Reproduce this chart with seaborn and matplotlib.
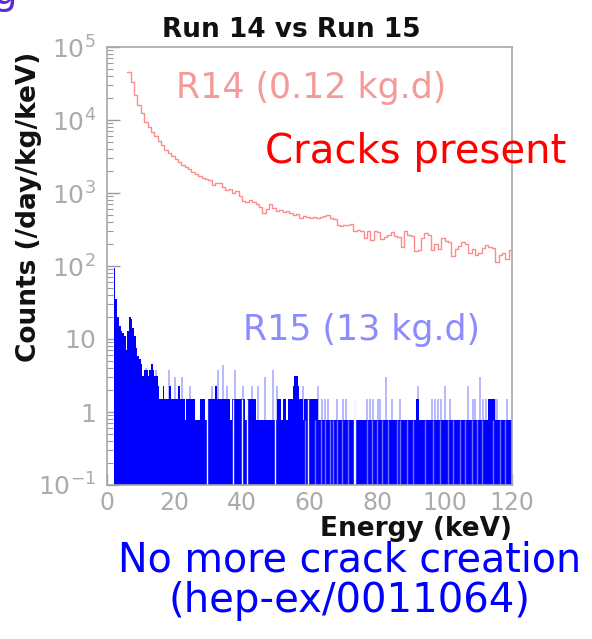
import numpy as np
import pandas as pd
import matplotlib
matplotlib.use("Agg")
import matplotlib.pyplot as plt
import seaborn as sns
from matplotlib.ticker import LogLocator, NullFormatter

# ---------------- data ----------------
# Run 14: rate per 1 keV bin, starting at 6 keV
r14_start = 6.0
r14_width = 1.0
r14_rate = [
    46000, 33000, 22000, 16000, 12500, 9500, 8000, 6800, 6000, 5200,   # 6-15
    4500, 3900, 3500, 3200, 2900, 2650, 2450, 2300, 2150, 1950,        # 16-25
    1800, 1700, 1600, 1550, 1500, 1300, 1380, 1350, 1200, 1100,        # 26-35
    1150, 1000, 1050, 900, 780, 760, 800, 760, 700, 650,               # 36-45
    530, 600, 700, 620, 560, 580, 550, 560, 540, 500,                  # 46-55
    520, 460, 480, 470, 460, 470, 450, 470, 490, 500,                  # 56-65
    460, 440, 360, 350, 360, 370, 380, 300, 310, 300,                  # 66-75
    240, 300, 230, 300, 290, 235, 250, 270, 295, 260,                  # 76-85
    250, 180, 305, 270, 260, 160, 165, 240, 280, 270,                  # 86-95
    165, 200, 170, 240, 220, 210, 135, 170, 190, 215,                  # 96-105
    200, 150, 170, 140, 150, 175, 195, 180, 175, 115,                  # 106-115
    140, 150, 125, 165,                                                # 116-119
]

# Run 15: rate per 0.5 keV bin, starting at 2 keV
r15_start = 2.0
r15_width = 0.5
r15_rate = [
    # 2.0 - 15.5
    95, 35, 20, 15, 13, 12, 11, 7, 13, 20, 19, 14, 11, 7.5,
    5.8, 5.4, 4.6, 3.1, 3.8, 3.8, 3.1, 3.8, 4.6, 3.8, 3.1, 3.1, 2.3, 1.5,
    # 16.0 - 22.5
    1.5, 2.3, 1.5, 1.5, 1.5, 2.3, 1.5, 1.5, 1.5, 1.5, 2.3, 1.5, 1.5, 1.5,
    # 23.0 - 29.5
    0.77, 1.5, 1.5, 1.5, 1.5, 1.5, 0.77, 0.77, 0.77, 1.5, 1.5, 1.5, 0.77, 0.77,
    # 30.0 - 36.5
    1.5, 1.5, 1.5, 1.5, 2.3, 1.5, 1.5, 1.5, 1.5, 1.5, 1.5, 1.5, 1.5, 0.77,
    # 37.0 - 43.5
    1.5, 1.5, 1.5, 1.5, 1.5, 1.5, 1.5, 1.5, 0.77, 1.5, 1.5, 1.5, 1.5, 1.5,
    # 44.0 - 50.0
    0.77, 0.77, 0.77, 0.77, 0.77, 0.77, 0.77, 0.77, 0.77, 0.77, 0.77, 0.77, 0.77,
    # 50.5 - 62.5
    1.5, 1.5, 0.77, 1.5, 1.5, 0.77, 1.5, 1.5, 1.5, 2.3, 3.1, 3.1, 2.3,
    1.5, 1.5, 0.77, 1.5, 1.5, 1.5, 1.5, 1.5, 1.5, 1.5, 1.5, 0.77,
    # 63.0 - 74.0
    0.77, 0.77, 0.77, 0.77, 0.77, 0.77, 0.77, 0.77, 0.77, 0.77, 0.77, 0.77,
    0.77, 0.77, 0.77, 0.77, 0.77, 0.77, 0.77, 0.77, 0.77, 0.77, 0.77,
    # 74.5 - 91.0
    0.77, 0.77, 0.77, 0.77, 0.77, 0.77, 0.77, 0.77, 0.77, 0.77, 0.77, 0.77,
    0.77, 0.77, 0.77, 0.77, 0.77, 0.77, 0.77, 0.77, 0.77, 0.77, 0.77, 0.77,
    0.77, 0.77, 0.77, 0.77, 0.77, 0.77, 0.77, 0.77, 0.77, 0.77,
    # 91.5 - 92.0
    1.5, 1.5,
    # 92.5 - 112.5
    0.77, 0.77, 0.77, 0.77, 0.77, 0.77, 0.77, 0.77, 0.77, 0.77, 0.77, 0.77,
    0.77, 0.77, 0.77, 0.77, 0.77, 0.77, 0.77, 0.77, 0.77, 0.77, 0.77, 0.77,
    0.77, 0.77, 0.77, 0.77, 0.77, 0.77, 0.77, 0.77, 0.77, 0.77, 0.77, 0.77,
    0.77, 0.77, 0.77, 0.77, 0.77,
    # 113.0 - 114.5
    1.5, 1.5, 1.5, 1.5,
    # 115.0 - 119.5
    0.77, 0.77, 0.77, 0.77, 0.77, 0.77, 0.77, 0.77, 0.77, 0.77,
]

# Run 15: narrow spikes above the solid level (energy keV, rate)
r15_spike_e = [11.5, 13.2, 14.5, 18.4, 20.1, 22.1, 24.6, 31.0, 33.0, 34.5,
               35.5, 37.9, 40.4, 42.9, 44.8, 46.8, 49.3, 50.3,
               57.5, 58.2, 59.0, 60.5, 61.2, 62.6, 63.8, 64.6, 65.6, 68.1,
               69.9, 70.8, 77.0, 77.9, 78.8, 80.4, 81.0, 82.7, 84.4, 86.8,
               92.2, 96.2, 97.2, 98.2, 99.0, 100.1, 101.6, 107.0, 108.3,
               109.0, 110.4, 111.5, 112.3, 115.0, 115.6, 118.4]
r15_spike_v = [4.0, 4.4, 3.8, 3.8, 3.0, 3.0, 2.3, 2.3, 3.8, 4.4,
               2.3, 3.8, 2.3, 2.3, 2.3, 3.0, 3.8, 2.3,
               1.5, 2.3, 1.5, 1.5, 1.5, 2.3, 1.5, 1.5, 1.5, 1.5,
               1.5, 1.5, 1.5, 1.5, 1.5, 1.5, 1.5, 3.0, 1.5, 1.5,
               2.3, 1.5, 1.5, 1.5, 1.5, 2.3, 1.5, 2.3, 1.5,
               1.5, 3.0, 1.5, 1.5, 1.5, 1.5, 1.5]

# Run 15: empty fine bins (energy keV)
r15_empty_e = [29.7, 37.4, 39.9, 41.6, 49.9, 59.7, 73.1, 73.5]
# Run 15: fine bins below the solid level (energy keV)
r15_dip_e = [58.7, 61.6, 63.3, 64.6, 66.1, 67.1, 68.1, 69.5, 71.5, 76.9,
             78.4, 79.9, 81.4, 83.4, 85.8, 86.8, 88.8, 90.8, 94.2, 96.7,
             98.6, 101.1, 102.6, 104.6, 106.0, 108.0, 109.5, 111.0, 114.4,
             116.4, 117.9]

xticks = [0, 20, 40, 60, 80, 100, 120]
yticks = [0.1, 1, 10, 100, 1e3, 1e4, 1e5]
ytick_labels = ["$10^{-1}$", "$1\\enspace\\,$", "$10\\enspace\\,$", "$10^{2}$",
                "$10^{3}$", "$10^{4}$", "$10^{5}$"]

# ---------------- plot ----------------
sns.set_theme(style="white")
plt.rcParams['font.family'] = ['DejaVu Sans']
plt.rcParams['mathtext.fontset'] = 'dejavusans'

fig = plt.figure(figsize=(5.92, 6.39), dpi=100)
ax = fig.add_axes([107 / 592, 1 - 485 / 639, 405 / 592, 438 / 639])

r14_edges = [float(r14_start + r14_width * i) for i in range(len(r14_rate) + 1)]
r15_edges = [float(r15_start + r15_width * i) for i in range(len(r15_rate) + 1)]
df14 = pd.DataFrame({"energy": [e + r14_width / 2 for e in r14_edges[:-1]],
                     "rate": r14_rate})
df15 = pd.DataFrame({"energy": [e + r15_width / 2 for e in r15_edges[:-1]],
                     "rate": r15_rate})

ax.vlines(r15_spike_e, 0.1, r15_spike_v, color="#a4a4ff", lw=1.1, zorder=0.5)
sns.histplot(data=df15, x="energy", weights="rate", bins=r15_edges,
             element="step", fill=True, color="#0000ff", alpha=1.0,
             linewidth=0, ax=ax)
ax.vlines(r15_dip_e, 0.1, 0.77, color="#6f6fff", lw=1.0, zorder=1.5)
ax.vlines(r15_empty_e, 0.1, 1.5, color="#f4f4ff", lw=1.0, zorder=1.6)
sns.histplot(data=df14, x="energy", weights="rate", bins=r14_edges,
             element="step", fill=False, color="#ff8c8c", linewidth=1.0, ax=ax)

ax.set_yscale("log")
ax.set_xlim(0, 120)
ax.set_ylim(0.1, 1e5)
ax.set_xticks(xticks)
ax.set_xticklabels([str(v) for v in xticks])
ax.set_yticks(yticks)
ax.set_yticklabels(ytick_labels)
ax.yaxis.set_minor_locator(LogLocator(base=10, subs=np.arange(2, 10)))
ax.yaxis.set_minor_formatter(NullFormatter())

grey = "#9a9a9a"
ax.tick_params(axis="y", which="major", direction="in", length=9, width=1,
               color=grey, labelcolor="#ababab", labelsize=18, left=True, pad=8)
ax.tick_params(axis="y", which="minor", direction="in", length=4.5, width=0.8,
               color=grey, left=True)
ax.tick_params(axis="x", which="major", direction="in", length=8, width=1,
               color=grey, labelcolor="#ababab", labelsize=17, bottom=True, pad=4)
for s in ax.spines.values():
    s.set_color("#a8a8a8")
    s.set_linewidth(1.2)

ax.set_xlabel("Energy (keV)", loc="right", fontsize=19, fontweight="bold",
              color="#111111", labelpad=1)
ax.set_ylabel("Counts (/day/kg/keV)", fontsize=19, fontweight="bold", color="#111111")
ax.yaxis.set_label_coords(-0.16, 0.635)

ax.text(0.504, 0.8836, "R14 (0.12 kg.d)", transform=ax.transAxes, ha="center",
        va="baseline", fontsize=25, color="#f59a9a")
ax.text(0.628, 0.331, "R15 (13 kg.d)", transform=ax.transAxes, ha="center",
        va="baseline", fontsize=25, color="#8c8cff")

fig.text(291.5 / 592, 1 - 37 / 639, "Run 14 vs Run 15", ha="center", va="baseline",
         fontsize=19, fontweight="bold", color="#111111")
fig.text(415.5 / 592, 1 - 163 / 639, "Cracks present", ha="center", va="baseline",
         fontsize=29, color="#ff0000")
fig.text(350 / 592, 1 - 572 / 639, "No more crack creation", ha="center",
         va="baseline", fontsize=28.5, color="#0000ff")
fig.text(350 / 592, 1 - 612 / 639, "(hep-ex/0011064)", ha="center",
         va="baseline", fontsize=29, color="#0000ff")
fig.text(-0.012, 1 - 4 / 639, "g", ha="left", va="baseline", fontsize=28,
         color="#5b2bd6")

fig.savefig("out.png", dpi=100)
